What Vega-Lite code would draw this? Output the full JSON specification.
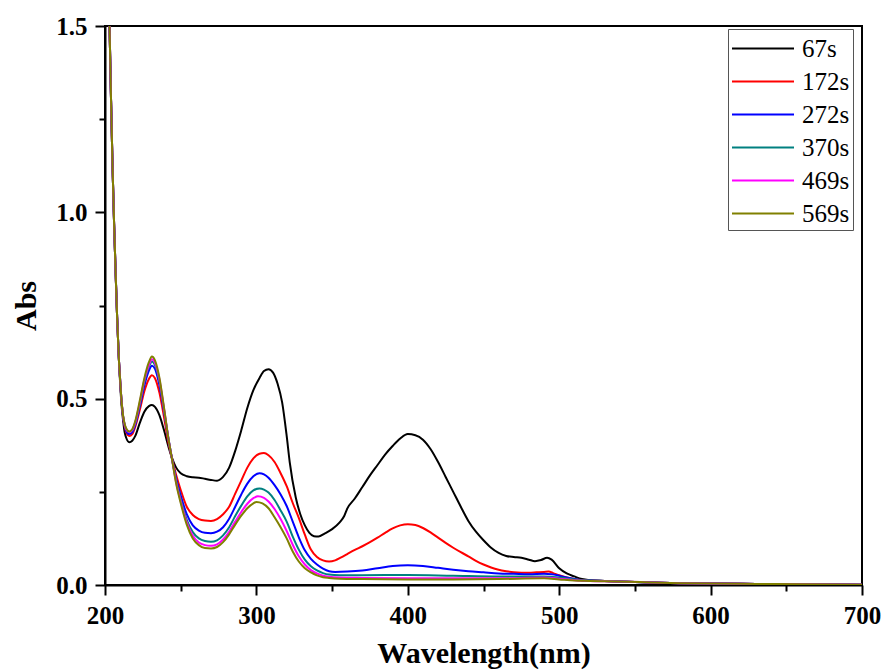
{
  "$schema": "https://vega.github.io/schema/vega-lite/v6.json",
  "width": 757,
  "height": 559,
  "autosize": "none",
  "padding": {"left": 105, "top": 26, "right": 23, "bottom": 85},
  "background": "white",
  "config": {
    "view": {"stroke": "black", "strokeWidth": 2},
    "axis": {"grid": false, "domainColor": "black", "domainWidth": 2, "tickColor": "black", "tickWidth": 2, "labelFont": "Liberation Serif", "labelFontWeight": "bold", "labelFontSize": 25, "labelColor": "black", "titleFont": "Liberation Serif", "titleFontWeight": "bold", "titleFontSize": 30, "titleColor": "black"}
  },
  "data": {"values": [
    {"s":"67s","w":201,"a":2.0},{"s":"67s","w":202,"a":1.75},{"s":"67s","w":203,"a":1.5},{"s":"67s","w":204,"a":1.3},{"s":"67s","w":205,"a":1.12},{"s":"67s","w":206,"a":0.97},{"s":"67s","w":207,"a":0.84},{"s":"67s","w":208,"a":0.72},{"s":"67s","w":209,"a":0.62},{"s":"67s","w":210,"a":0.54},{"s":"67s","w":211,"a":0.48},{"s":"67s","w":212,"a":0.44},{"s":"67s","w":213,"a":0.41},{"s":"67s","w":214,"a":0.395},{"s":"67s","w":216,"a":0.383},{"s":"67s","w":218,"a":0.387},{"s":"67s","w":220,"a":0.40},{"s":"67s","w":223,"a":0.435},{"s":"67s","w":226,"a":0.465},{"s":"67s","w":229,"a":0.48},{"s":"67s","w":231,"a":0.483},{"s":"67s","w":233,"a":0.478},{"s":"67s","w":236,"a":0.455},{"s":"67s","w":239,"a":0.415},{"s":"67s","w":242,"a":0.37},{"s":"67s","w":244,"a":0.344},{"s":"67s","w":247,"a":0.315},{"s":"67s","w":250,"a":0.3},{"s":"67s","w":254,"a":0.292},{"s":"67s","w":258,"a":0.289},{"s":"67s","w":262,"a":0.288},{"s":"67s","w":266,"a":0.285},{"s":"67s","w":270,"a":0.282},{"s":"67s","w":274,"a":0.28},{"s":"67s","w":278,"a":0.29},{"s":"67s","w":282,"a":0.315},{"s":"67s","w":286,"a":0.36},{"s":"67s","w":290,"a":0.415},{"s":"67s","w":294,"a":0.475},{"s":"67s","w":298,"a":0.523},{"s":"67s","w":302,"a":0.555},{"s":"67s","w":305,"a":0.574},{"s":"67s","w":308,"a":0.579},{"s":"67s","w":311,"a":0.57},{"s":"67s","w":314,"a":0.54},{"s":"67s","w":317,"a":0.49},{"s":"67s","w":320,"a":0.40},{"s":"67s","w":322,"a":0.33},{"s":"67s","w":326,"a":0.235},{"s":"67s","w":329,"a":0.19},{"s":"67s","w":332,"a":0.16},{"s":"67s","w":335,"a":0.14},{"s":"67s","w":338,"a":0.131},{"s":"67s","w":341,"a":0.13},{"s":"67s","w":345,"a":0.138},{"s":"67s","w":350,"a":0.15},{"s":"67s","w":355,"a":0.168},{"s":"67s","w":358,"a":0.185},{"s":"67s","w":360,"a":0.205},{"s":"67s","w":365,"a":0.232},{"s":"67s","w":370,"a":0.263},{"s":"67s","w":375,"a":0.294},{"s":"67s","w":380,"a":0.322},{"s":"67s","w":385,"a":0.35},{"s":"67s","w":390,"a":0.373},{"s":"67s","w":395,"a":0.393},{"s":"67s","w":400,"a":0.405},{"s":"67s","w":405,"a":0.402},{"s":"67s","w":410,"a":0.39},{"s":"67s","w":415,"a":0.365},{"s":"67s","w":420,"a":0.33},{"s":"67s","w":425,"a":0.29},{"s":"67s","w":430,"a":0.25},{"s":"67s","w":435,"a":0.21},{"s":"67s","w":440,"a":0.172},{"s":"67s","w":445,"a":0.143},{"s":"67s","w":450,"a":0.12},{"s":"67s","w":455,"a":0.1},{"s":"67s","w":460,"a":0.086},{"s":"67s","w":465,"a":0.078},{"s":"67s","w":470,"a":0.075},{"s":"67s","w":475,"a":0.073},{"s":"67s","w":480,"a":0.068},{"s":"67s","w":484,"a":0.064},{"s":"67s","w":488,"a":0.067},{"s":"67s","w":492,"a":0.073},{"s":"67s","w":495,"a":0.068},{"s":"67s","w":500,"a":0.045},{"s":"67s","w":505,"a":0.031},{"s":"67s","w":510,"a":0.023},{"s":"67s","w":515,"a":0.016},{"s":"67s","w":520,"a":0.013},{"s":"67s","w":530,"a":0.011},{"s":"67s","w":545,"a":0.009},{"s":"67s","w":560,"a":0.007},{"s":"67s","w":580,"a":0.005},{"s":"67s","w":600,"a":0.004},{"s":"67s","w":630,"a":0.003},{"s":"67s","w":660,"a":0.002},{"s":"67s","w":700,"a":0.001},

    {"s":"172s","w":201,"a":2.0},{"s":"172s","w":202,"a":1.75},{"s":"172s","w":203,"a":1.5},{"s":"172s","w":204,"a":1.3},{"s":"172s","w":205,"a":1.12},{"s":"172s","w":206,"a":0.97},{"s":"172s","w":207,"a":0.84},{"s":"172s","w":208,"a":0.72},{"s":"172s","w":209,"a":0.62},{"s":"172s","w":210,"a":0.55},{"s":"172s","w":211,"a":0.49},{"s":"172s","w":212,"a":0.45},{"s":"172s","w":213,"a":0.425},{"s":"172s","w":214,"a":0.41},{"s":"172s","w":216,"a":0.40},{"s":"172s","w":218,"a":0.405},{"s":"172s","w":220,"a":0.425},{"s":"172s","w":223,"a":0.47},{"s":"172s","w":226,"a":0.52},{"s":"172s","w":229,"a":0.553},{"s":"172s","w":231,"a":0.563},{"s":"172s","w":233,"a":0.555},{"s":"172s","w":236,"a":0.515},{"s":"172s","w":239,"a":0.45},{"s":"172s","w":242,"a":0.38},{"s":"172s","w":244,"a":0.344},{"s":"172s","w":247,"a":0.295},{"s":"172s","w":250,"a":0.255},{"s":"172s","w":254,"a":0.21},{"s":"172s","w":258,"a":0.188},{"s":"172s","w":262,"a":0.177},{"s":"172s","w":266,"a":0.173},{"s":"172s","w":270,"a":0.172},{"s":"172s","w":274,"a":0.177},{"s":"172s","w":278,"a":0.19},{"s":"172s","w":282,"a":0.21},{"s":"172s","w":286,"a":0.245},{"s":"172s","w":290,"a":0.28},{"s":"172s","w":294,"a":0.315},{"s":"172s","w":298,"a":0.34},{"s":"172s","w":302,"a":0.352},{"s":"172s","w":305,"a":0.354},{"s":"172s","w":308,"a":0.348},{"s":"172s","w":312,"a":0.33},{"s":"172s","w":316,"a":0.30},{"s":"172s","w":320,"a":0.265},{"s":"172s","w":324,"a":0.22},{"s":"172s","w":328,"a":0.18},{"s":"172s","w":332,"a":0.135},{"s":"172s","w":336,"a":0.095},{"s":"172s","w":340,"a":0.075},{"s":"172s","w":344,"a":0.066},{"s":"172s","w":348,"a":0.063},{"s":"172s","w":352,"a":0.066},{"s":"172s","w":356,"a":0.074},{"s":"172s","w":360,"a":0.083},{"s":"172s","w":365,"a":0.094},{"s":"172s","w":370,"a":0.104},{"s":"172s","w":375,"a":0.115},{"s":"172s","w":380,"a":0.127},{"s":"172s","w":385,"a":0.14},{"s":"172s","w":390,"a":0.152},{"s":"172s","w":395,"a":0.16},{"s":"172s","w":400,"a":0.163},{"s":"172s","w":405,"a":0.161},{"s":"172s","w":410,"a":0.153},{"s":"172s","w":415,"a":0.141},{"s":"172s","w":420,"a":0.127},{"s":"172s","w":425,"a":0.113},{"s":"172s","w":430,"a":0.1},{"s":"172s","w":435,"a":0.088},{"s":"172s","w":440,"a":0.077},{"s":"172s","w":445,"a":0.065},{"s":"172s","w":450,"a":0.055},{"s":"172s","w":455,"a":0.047},{"s":"172s","w":460,"a":0.041},{"s":"172s","w":465,"a":0.037},{"s":"172s","w":470,"a":0.034},{"s":"172s","w":475,"a":0.033},{"s":"172s","w":480,"a":0.033},{"s":"172s","w":485,"a":0.034},{"s":"172s","w":490,"a":0.035},{"s":"172s","w":493,"a":0.036},{"s":"172s","w":496,"a":0.032},{"s":"172s","w":500,"a":0.026},{"s":"172s","w":505,"a":0.02},{"s":"172s","w":510,"a":0.016},{"s":"172s","w":515,"a":0.013},{"s":"172s","w":520,"a":0.012},{"s":"172s","w":530,"a":0.011},{"s":"172s","w":545,"a":0.009},{"s":"172s","w":560,"a":0.007},{"s":"172s","w":580,"a":0.005},{"s":"172s","w":600,"a":0.004},{"s":"172s","w":630,"a":0.003},{"s":"172s","w":660,"a":0.002},{"s":"172s","w":700,"a":0.001},

    {"s":"272s","w":201,"a":2.0},{"s":"272s","w":202,"a":1.75},{"s":"272s","w":203,"a":1.5},{"s":"272s","w":204,"a":1.3},{"s":"272s","w":205,"a":1.12},{"s":"272s","w":206,"a":0.97},{"s":"272s","w":207,"a":0.84},{"s":"272s","w":208,"a":0.72},{"s":"272s","w":209,"a":0.62},{"s":"272s","w":210,"a":0.55},{"s":"272s","w":211,"a":0.49},{"s":"272s","w":212,"a":0.45},{"s":"272s","w":213,"a":0.428},{"s":"272s","w":214,"a":0.414},{"s":"272s","w":216,"a":0.405},{"s":"272s","w":218,"a":0.41},{"s":"272s","w":220,"a":0.43},{"s":"272s","w":223,"a":0.48},{"s":"272s","w":226,"a":0.535},{"s":"272s","w":229,"a":0.575},{"s":"272s","w":231,"a":0.588},{"s":"272s","w":233,"a":0.58},{"s":"272s","w":236,"a":0.535},{"s":"272s","w":239,"a":0.465},{"s":"272s","w":242,"a":0.39},{"s":"272s","w":244,"a":0.344},{"s":"272s","w":247,"a":0.285},{"s":"272s","w":250,"a":0.24},{"s":"272s","w":254,"a":0.19},{"s":"272s","w":258,"a":0.16},{"s":"272s","w":262,"a":0.146},{"s":"272s","w":266,"a":0.14},{"s":"272s","w":270,"a":0.139},{"s":"272s","w":274,"a":0.143},{"s":"272s","w":278,"a":0.155},{"s":"272s","w":282,"a":0.178},{"s":"272s","w":286,"a":0.21},{"s":"272s","w":290,"a":0.243},{"s":"272s","w":294,"a":0.272},{"s":"272s","w":298,"a":0.292},{"s":"272s","w":302,"a":0.30},{"s":"272s","w":305,"a":0.297},{"s":"272s","w":308,"a":0.288},{"s":"272s","w":312,"a":0.268},{"s":"272s","w":316,"a":0.243},{"s":"272s","w":320,"a":0.212},{"s":"272s","w":324,"a":0.17},{"s":"272s","w":328,"a":0.128},{"s":"272s","w":332,"a":0.093},{"s":"272s","w":336,"a":0.07},{"s":"272s","w":340,"a":0.055},{"s":"272s","w":344,"a":0.044},{"s":"272s","w":348,"a":0.037},{"s":"272s","w":352,"a":0.035},{"s":"272s","w":360,"a":0.036},{"s":"272s","w":370,"a":0.039},{"s":"272s","w":380,"a":0.045},{"s":"272s","w":390,"a":0.051},{"s":"272s","w":400,"a":0.053},{"s":"272s","w":410,"a":0.051},{"s":"272s","w":420,"a":0.046},{"s":"272s","w":430,"a":0.041},{"s":"272s","w":440,"a":0.037},{"s":"272s","w":450,"a":0.034},{"s":"272s","w":460,"a":0.031},{"s":"272s","w":470,"a":0.03},{"s":"272s","w":480,"a":0.029},{"s":"272s","w":490,"a":0.03},{"s":"272s","w":495,"a":0.029},{"s":"272s","w":500,"a":0.025},{"s":"272s","w":505,"a":0.02},{"s":"272s","w":510,"a":0.016},{"s":"272s","w":515,"a":0.013},{"s":"272s","w":520,"a":0.012},{"s":"272s","w":530,"a":0.011},{"s":"272s","w":545,"a":0.009},{"s":"272s","w":560,"a":0.007},{"s":"272s","w":580,"a":0.005},{"s":"272s","w":600,"a":0.004},{"s":"272s","w":630,"a":0.003},{"s":"272s","w":660,"a":0.002},{"s":"272s","w":700,"a":0.001},

    {"s":"370s","w":201,"a":2.0},{"s":"370s","w":202,"a":1.75},{"s":"370s","w":203,"a":1.5},{"s":"370s","w":204,"a":1.3},{"s":"370s","w":205,"a":1.12},{"s":"370s","w":206,"a":0.97},{"s":"370s","w":207,"a":0.84},{"s":"370s","w":208,"a":0.72},{"s":"370s","w":209,"a":0.62},{"s":"370s","w":210,"a":0.55},{"s":"370s","w":211,"a":0.49},{"s":"370s","w":212,"a":0.452},{"s":"370s","w":213,"a":0.43},{"s":"370s","w":214,"a":0.418},{"s":"370s","w":216,"a":0.41},{"s":"370s","w":218,"a":0.415},{"s":"370s","w":220,"a":0.435},{"s":"370s","w":223,"a":0.485},{"s":"370s","w":226,"a":0.545},{"s":"370s","w":229,"a":0.585},{"s":"370s","w":231,"a":0.60},{"s":"370s","w":233,"a":0.59},{"s":"370s","w":236,"a":0.545},{"s":"370s","w":239,"a":0.47},{"s":"370s","w":242,"a":0.39},{"s":"370s","w":244,"a":0.344},{"s":"370s","w":247,"a":0.28},{"s":"370s","w":250,"a":0.23},{"s":"370s","w":254,"a":0.175},{"s":"370s","w":258,"a":0.142},{"s":"370s","w":262,"a":0.125},{"s":"370s","w":266,"a":0.118},{"s":"370s","w":270,"a":0.116},{"s":"370s","w":274,"a":0.12},{"s":"370s","w":278,"a":0.133},{"s":"370s","w":282,"a":0.155},{"s":"370s","w":286,"a":0.185},{"s":"370s","w":290,"a":0.213},{"s":"370s","w":294,"a":0.238},{"s":"370s","w":298,"a":0.254},{"s":"370s","w":302,"a":0.259},{"s":"370s","w":305,"a":0.256},{"s":"370s","w":308,"a":0.248},{"s":"370s","w":312,"a":0.228},{"s":"370s","w":316,"a":0.2},{"s":"370s","w":320,"a":0.17},{"s":"370s","w":324,"a":0.13},{"s":"370s","w":328,"a":0.095},{"s":"370s","w":332,"a":0.068},{"s":"370s","w":336,"a":0.05},{"s":"370s","w":340,"a":0.039},{"s":"370s","w":344,"a":0.032},{"s":"370s","w":348,"a":0.028},{"s":"370s","w":355,"a":0.026},{"s":"370s","w":370,"a":0.026},{"s":"370s","w":400,"a":0.027},{"s":"370s","w":430,"a":0.025},{"s":"370s","w":460,"a":0.023},{"s":"370s","w":490,"a":0.023},{"s":"370s","w":500,"a":0.02},{"s":"370s","w":510,"a":0.015},{"s":"370s","w":520,"a":0.012},{"s":"370s","w":530,"a":0.011},{"s":"370s","w":545,"a":0.009},{"s":"370s","w":560,"a":0.007},{"s":"370s","w":580,"a":0.005},{"s":"370s","w":600,"a":0.004},{"s":"370s","w":630,"a":0.003},{"s":"370s","w":660,"a":0.002},{"s":"370s","w":700,"a":0.001},

    {"s":"469s","w":201,"a":2.0},{"s":"469s","w":202,"a":1.75},{"s":"469s","w":203,"a":1.5},{"s":"469s","w":204,"a":1.3},{"s":"469s","w":205,"a":1.12},{"s":"469s","w":206,"a":0.97},{"s":"469s","w":207,"a":0.84},{"s":"469s","w":208,"a":0.72},{"s":"469s","w":209,"a":0.62},{"s":"469s","w":210,"a":0.55},{"s":"469s","w":211,"a":0.49},{"s":"469s","w":212,"a":0.452},{"s":"469s","w":213,"a":0.43},{"s":"469s","w":214,"a":0.418},{"s":"469s","w":216,"a":0.41},{"s":"469s","w":218,"a":0.416},{"s":"469s","w":220,"a":0.437},{"s":"469s","w":223,"a":0.49},{"s":"469s","w":226,"a":0.55},{"s":"469s","w":229,"a":0.59},{"s":"469s","w":231,"a":0.606},{"s":"469s","w":233,"a":0.596},{"s":"469s","w":236,"a":0.55},{"s":"469s","w":239,"a":0.473},{"s":"469s","w":242,"a":0.39},{"s":"469s","w":244,"a":0.344},{"s":"469s","w":247,"a":0.275},{"s":"469s","w":250,"a":0.225},{"s":"469s","w":254,"a":0.168},{"s":"469s","w":258,"a":0.132},{"s":"469s","w":262,"a":0.114},{"s":"469s","w":266,"a":0.107},{"s":"469s","w":270,"a":0.105},{"s":"469s","w":274,"a":0.109},{"s":"469s","w":278,"a":0.122},{"s":"469s","w":282,"a":0.143},{"s":"469s","w":286,"a":0.17},{"s":"469s","w":290,"a":0.196},{"s":"469s","w":294,"a":0.218},{"s":"469s","w":298,"a":0.233},{"s":"469s","w":301,"a":0.238},{"s":"469s","w":305,"a":0.234},{"s":"469s","w":308,"a":0.224},{"s":"469s","w":312,"a":0.204},{"s":"469s","w":316,"a":0.177},{"s":"469s","w":320,"a":0.145},{"s":"469s","w":324,"a":0.108},{"s":"469s","w":328,"a":0.077},{"s":"469s","w":332,"a":0.055},{"s":"469s","w":336,"a":0.04},{"s":"469s","w":340,"a":0.031},{"s":"469s","w":344,"a":0.025},{"s":"469s","w":348,"a":0.022},{"s":"469s","w":355,"a":0.02},{"s":"469s","w":370,"a":0.019},{"s":"469s","w":400,"a":0.018},{"s":"469s","w":430,"a":0.018},{"s":"469s","w":460,"a":0.018},{"s":"469s","w":490,"a":0.02},{"s":"469s","w":500,"a":0.017},{"s":"469s","w":510,"a":0.013},{"s":"469s","w":520,"a":0.011},{"s":"469s","w":530,"a":0.01},{"s":"469s","w":545,"a":0.009},{"s":"469s","w":560,"a":0.007},{"s":"469s","w":580,"a":0.005},{"s":"469s","w":600,"a":0.004},{"s":"469s","w":630,"a":0.003},{"s":"469s","w":660,"a":0.002},{"s":"469s","w":700,"a":0.001},

    {"s":"569s","w":201,"a":2.0},{"s":"569s","w":202,"a":1.75},{"s":"569s","w":203,"a":1.5},{"s":"569s","w":204,"a":1.3},{"s":"569s","w":205,"a":1.12},{"s":"569s","w":206,"a":0.97},{"s":"569s","w":207,"a":0.84},{"s":"569s","w":208,"a":0.72},{"s":"569s","w":209,"a":0.62},{"s":"569s","w":210,"a":0.55},{"s":"569s","w":211,"a":0.49},{"s":"569s","w":212,"a":0.453},{"s":"569s","w":213,"a":0.432},{"s":"569s","w":214,"a":0.42},{"s":"569s","w":216,"a":0.412},{"s":"569s","w":218,"a":0.418},{"s":"569s","w":220,"a":0.44},{"s":"569s","w":223,"a":0.495},{"s":"569s","w":226,"a":0.555},{"s":"569s","w":229,"a":0.598},{"s":"569s","w":231,"a":0.613},{"s":"569s","w":233,"a":0.603},{"s":"569s","w":236,"a":0.555},{"s":"569s","w":239,"a":0.475},{"s":"569s","w":242,"a":0.39},{"s":"569s","w":244,"a":0.344},{"s":"569s","w":247,"a":0.272},{"s":"569s","w":250,"a":0.22},{"s":"569s","w":254,"a":0.162},{"s":"569s","w":258,"a":0.125},{"s":"569s","w":262,"a":0.107},{"s":"569s","w":266,"a":0.099},{"s":"569s","w":270,"a":0.098},{"s":"569s","w":274,"a":0.102},{"s":"569s","w":278,"a":0.115},{"s":"569s","w":282,"a":0.136},{"s":"569s","w":286,"a":0.162},{"s":"569s","w":290,"a":0.186},{"s":"569s","w":294,"a":0.206},{"s":"569s","w":298,"a":0.219},{"s":"569s","w":300,"a":0.223},{"s":"569s","w":304,"a":0.219},{"s":"569s","w":308,"a":0.206},{"s":"569s","w":312,"a":0.182},{"s":"569s","w":316,"a":0.155},{"s":"569s","w":320,"a":0.125},{"s":"569s","w":324,"a":0.09},{"s":"569s","w":328,"a":0.063},{"s":"569s","w":332,"a":0.045},{"s":"569s","w":336,"a":0.034},{"s":"569s","w":340,"a":0.026},{"s":"569s","w":344,"a":0.021},{"s":"569s","w":348,"a":0.019},{"s":"569s","w":355,"a":0.017},{"s":"569s","w":370,"a":0.016},{"s":"569s","w":400,"a":0.015},{"s":"569s","w":430,"a":0.015},{"s":"569s","w":460,"a":0.016},{"s":"569s","w":490,"a":0.018},{"s":"569s","w":500,"a":0.015},{"s":"569s","w":510,"a":0.012},{"s":"569s","w":520,"a":0.011},{"s":"569s","w":530,"a":0.01},{"s":"569s","w":545,"a":0.009},{"s":"569s","w":560,"a":0.007},{"s":"569s","w":580,"a":0.005},{"s":"569s","w":600,"a":0.004},{"s":"569s","w":630,"a":0.003},{"s":"569s","w":660,"a":0.002},{"s":"569s","w":700,"a":0.001}
  ]},
  "mark": {"type": "line", "clip": true, "strokeWidth": 2, "interpolate": "monotone"},
  "encoding": {
    "x": {"field": "w", "type": "quantitative", "scale": {"domain": [200, 700], "nice": false, "zero": false},
      "axis": {"title": "Wavelength(nm)", "values": [200,250,300,350,400,450,500,550,600,650,700], "labelExpr": "datum.value % 100 === 0 ? datum.label : ''", "tickSize": {"condition": {"test": "datum.value % 100 === 0", "value": 10}, "value": 6}, "labelPadding": 8, "titlePadding": 10, "labelFlush": false}},
    "y": {"field": "a", "type": "quantitative", "scale": {"domain": [0, 1.5], "nice": false},
      "axis": {"title": "Abs", "values": [0,0.25,0.5,0.75,1,1.25,1.5], "labelExpr": "datum.value % 0.5 === 0 ? format(datum.value, '.1f') : ''", "tickSize": {"condition": {"test": "datum.value % 0.5 === 0", "value": 10}, "value": 6}, "labelPadding": 8, "titlePadding": 14, "labelFlush": false}},
    "color": {"field": "s", "type": "nominal", "sort": null,
      "scale": {"domain": ["67s","172s","272s","370s","469s","569s"], "range": ["#000000","#ff0000","#0000ff","#008080","#ff00ff","#808000"]},
      "legend": {"title": null, "orient": "none", "legendX": 623, "legendY": 3, "symbolType": "M-1,0H3", "symbolSize": 961, "symbolStrokeWidth": 2, "rowPadding": 3, "labelFont": "Liberation Serif", "labelFontSize": 25, "labelColor": "black", "labelOffset": 38, "strokeColor": "#555555", "padding": 3, "fillColor": "white"}}
  }
}
